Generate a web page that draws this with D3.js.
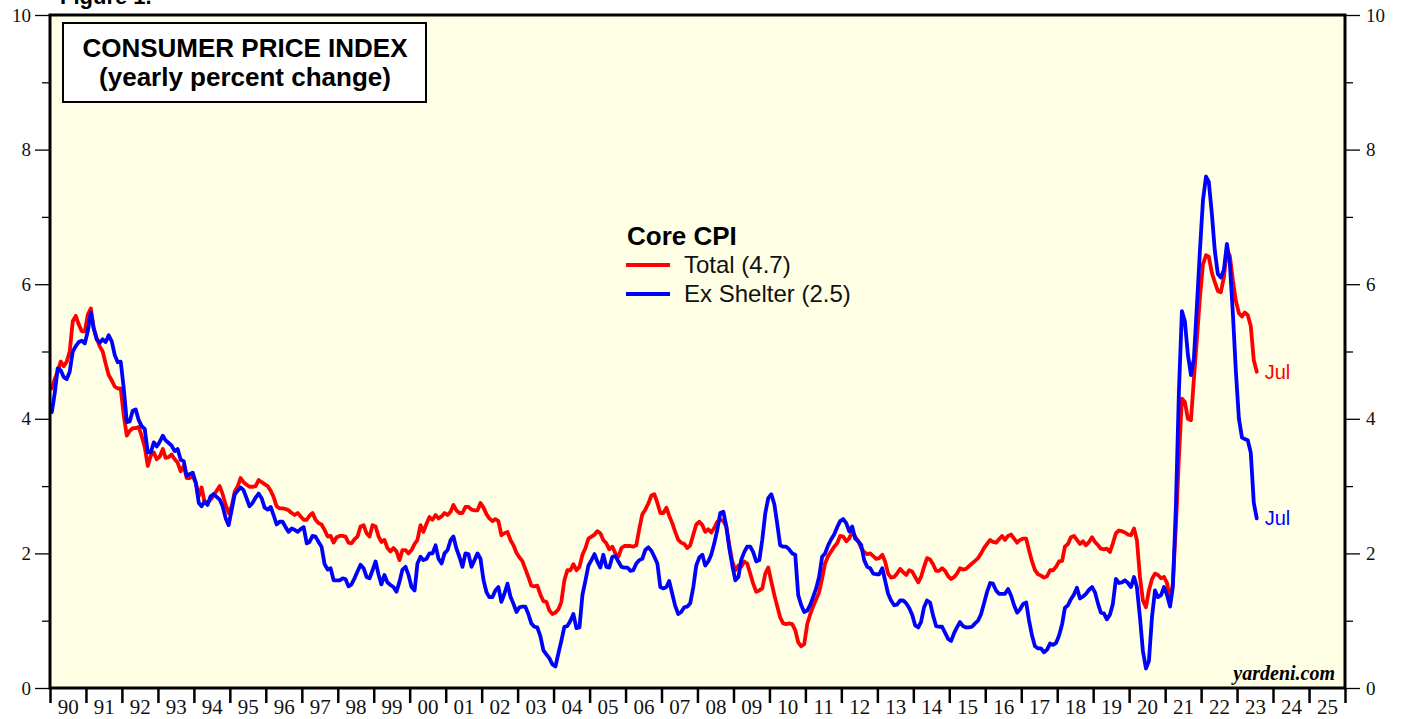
<!DOCTYPE html>
<html>
<head>
<meta charset="utf-8">
<script src="https://cdn.jsdelivr.net/npm/d3@7"></script>
<style>
  html, body { margin: 0; padding: 0; background: #fff; }
  svg { display: block; }
</style>
</head>
<body>
<svg id="chart" width="1406" height="719"></svg>
<script>
// Core CPI, yearly percent change, monthly from Jan 1990
const startYear = 1990;

const totalCore = [
  4.45, 4.6, 4.7, 4.85, 4.78, 4.85, 5.0, 5.45, 5.53, 5.4, 5.3, 5.3, // 90
  5.55, 5.64, 5.35, 5.2, 5.08, 5.0, 4.82, 4.65, 4.57, 4.48, 4.45, 4.45,
  4.05, 3.75, 3.82, 3.86, 3.86, 3.88, 3.74, 3.58, 3.3, 3.45, 3.5, 3.4,
  3.44, 3.55, 3.42, 3.43, 3.47, 3.4, 3.35, 3.22, 3.3, 3.12, 3.12, 3.15,
  3.05, 2.85, 2.98, 2.76, 2.76, 2.8, 2.86, 2.93, 3.0, 2.88, 2.72, 2.6,
  2.7, 2.92, 2.99, 3.12, 3.06, 3.02, 2.99, 2.99, 3.0, 3.09, 3.06, 3.03, // 95
  3.0, 2.93, 2.84, 2.7, 2.67, 2.67, 2.66, 2.64, 2.6, 2.57, 2.6, 2.55,
  2.5, 2.5, 2.56, 2.6, 2.5, 2.45, 2.43, 2.35, 2.25, 2.26, 2.16, 2.24,
  2.26, 2.26, 2.25, 2.16, 2.15, 2.21, 2.25, 2.4, 2.42, 2.3, 2.25, 2.42,
  2.4, 2.25, 2.17, 2.2, 2.08, 2.03, 2.08, 2.03, 1.9, 2.05, 2.05, 2.0,
  2.05, 2.14, 2.2, 2.42, 2.32, 2.44, 2.54, 2.5, 2.57, 2.52, 2.55, 2.6, // 00
  2.57, 2.62, 2.72, 2.64, 2.6, 2.6, 2.69, 2.69, 2.65, 2.64, 2.64, 2.75,
  2.68, 2.58, 2.52, 2.48, 2.51, 2.48, 2.27, 2.3, 2.32, 2.2, 2.12, 2.01,
  1.94, 1.88, 1.77, 1.65, 1.52, 1.51, 1.52, 1.39, 1.29, 1.28, 1.15, 1.1,
  1.12, 1.17, 1.28, 1.6, 1.75, 1.75, 1.84, 1.75, 1.8, 1.98, 2.08, 2.22,
  2.25, 2.28, 2.33, 2.3, 2.2, 2.15, 2.06, 2.1, 2.0, 1.95, 2.08, 2.11, // 05
  2.11, 2.11, 2.1, 2.12, 2.36, 2.58, 2.65, 2.74, 2.86, 2.88, 2.75, 2.6,
  2.6, 2.68, 2.56, 2.45, 2.32, 2.2, 2.16, 2.14, 2.08, 2.12, 2.28, 2.43,
  2.47, 2.42, 2.32, 2.36, 2.31, 2.38, 2.47, 2.5, 2.48, 2.4, 2.12, 1.88,
  1.75, 1.82, 1.8, 1.88, 1.85, 1.7, 1.55, 1.43, 1.45, 1.48, 1.7, 1.79,
  1.58, 1.38, 1.22, 1.05, 0.96, 0.95, 0.96, 0.95, 0.86, 0.68, 0.62, 0.65, // 10
  0.95, 1.1, 1.21, 1.32, 1.42, 1.63, 1.85, 1.96, 2.03, 2.1, 2.15, 2.26,
  2.25, 2.18, 2.22, 2.32, 2.25, 2.18, 2.08, 2.02, 1.99, 2.0, 1.96, 1.92,
  1.93, 1.98, 1.88, 1.7, 1.64, 1.65, 1.7, 1.77, 1.72, 1.68, 1.75, 1.73,
  1.65, 1.57, 1.65, 1.8, 1.93, 1.91, 1.84, 1.74, 1.74, 1.78, 1.74, 1.66,
  1.62, 1.65, 1.7, 1.78, 1.76, 1.77, 1.81, 1.85, 1.89, 1.93, 2.0, 2.08, // 15
  2.14, 2.2, 2.17, 2.16, 2.21, 2.26, 2.2, 2.26, 2.28, 2.22, 2.16, 2.2,
  2.22, 2.22, 2.05, 1.88, 1.75, 1.69, 1.67, 1.64, 1.66, 1.75, 1.75, 1.8,
  1.88, 1.89, 2.1, 2.14, 2.24, 2.26, 2.2, 2.14, 2.18, 2.12, 2.17, 2.24,
  2.17, 2.12, 2.07, 2.06, 2.07, 2.02, 2.15, 2.3, 2.34, 2.33, 2.31, 2.28,
  2.27, 2.37, 2.2, 1.65, 1.3, 1.2, 1.45, 1.62, 1.7, 1.68, 1.63, 1.65, // 20
  1.56, 1.3, 1.55, 2.4, 3.4, 4.3, 4.25, 4.0, 3.98, 4.6, 5.2, 5.8,
  6.3, 6.43, 6.41, 6.17, 6.03, 5.9, 5.88, 6.1, 6.52, 6.42, 6.05, 5.75,
  5.57, 5.52, 5.58, 5.54, 5.38, 4.87, 4.7
];

const exShelter = [
  4.1, 4.4, 4.75, 4.72, 4.62, 4.59, 4.7, 5.0, 5.08, 5.14, 5.16, 5.12, // 90
  5.3, 5.58, 5.35, 5.18, 5.13, 5.18, 5.14, 5.24, 5.15, 4.95, 4.84, 4.85,
  4.45, 3.95, 3.96, 4.12, 4.14, 3.98, 3.89, 3.85, 3.5, 3.5, 3.65, 3.59,
  3.66, 3.75, 3.68, 3.64, 3.6, 3.52, 3.55, 3.39, 3.37, 3.15, 3.18, 3.2,
  3.05, 2.75, 2.7, 2.77, 2.72, 2.85, 2.88, 2.84, 2.8, 2.7, 2.52, 2.42,
  2.65, 2.88, 2.93, 2.98, 2.94, 2.82, 2.7, 2.75, 2.83, 2.89, 2.82, 2.68, // 95
  2.65, 2.69, 2.57, 2.43, 2.47, 2.47, 2.39, 2.32, 2.37, 2.35, 2.32, 2.36,
  2.39, 2.15, 2.17, 2.26, 2.25, 2.17, 2.1, 1.84, 1.76, 1.78, 1.6, 1.6,
  1.6, 1.63, 1.62, 1.51, 1.54, 1.63, 1.73, 1.83, 1.78, 1.65, 1.63, 1.75,
  1.88, 1.68, 1.54, 1.68, 1.57, 1.53, 1.5, 1.43, 1.58, 1.76, 1.8, 1.68,
  1.5, 1.45, 1.85, 1.95, 1.9, 1.92, 2.0, 2.0, 2.12, 1.92, 1.85, 2.0, // 00
  2.05, 2.2, 2.25, 2.07, 1.95, 1.8, 2.0, 1.99, 1.8, 1.9, 2.0, 1.92,
  1.6, 1.42, 1.35, 1.35, 1.45, 1.5, 1.28, 1.4, 1.55, 1.36, 1.25, 1.13,
  1.2, 1.21, 1.21, 1.1, 0.96, 0.91, 0.9, 0.77, 0.56, 0.5, 0.44, 0.35,
  0.32, 0.52, 0.7, 0.91, 0.92, 1.0, 1.1, 0.89, 0.9, 1.38, 1.6, 1.82,
  1.9, 1.99, 1.88, 1.79, 1.98, 1.8, 1.79, 1.95, 1.96, 1.88, 1.8, 1.79, // 05
  1.79, 1.74, 1.75, 1.85, 1.9, 1.92, 2.05, 2.09, 2.04, 1.95, 1.85, 1.5,
  1.48, 1.5, 1.59, 1.4, 1.22, 1.1, 1.13, 1.2, 1.21, 1.26, 1.5, 1.82,
  1.94, 1.98, 1.82, 1.88, 1.98, 2.15, 2.35, 2.6, 2.62, 2.4, 2.07, 1.82,
  1.6, 1.65, 1.9, 2.02, 2.1, 2.1, 2.02, 1.88, 1.9, 2.2, 2.6, 2.82,
  2.88, 2.73, 2.45, 2.12, 2.1, 2.1, 2.06, 2.0, 1.98, 1.38, 1.23, 1.13, // 10
  1.15, 1.24, 1.35, 1.48, 1.65, 1.95, 2.0, 2.12, 2.21, 2.28, 2.39, 2.48,
  2.51, 2.45, 2.33, 2.4, 2.22, 2.18, 2.13, 1.9, 1.8, 1.78, 1.7, 1.69,
  1.69, 1.78, 1.6, 1.4, 1.3, 1.23, 1.24, 1.3, 1.3, 1.26, 1.19, 1.09,
  0.93, 0.9, 0.98, 1.2, 1.3, 1.27, 1.08, 0.92, 0.91, 0.91, 0.82, 0.73,
  0.7, 0.82, 0.9, 0.98, 0.92, 0.9, 0.9, 0.91, 0.96, 1.0, 1.1, 1.26, // 15
  1.43, 1.56, 1.55, 1.45, 1.4, 1.4, 1.4, 1.47, 1.37, 1.23, 1.12, 1.17,
  1.25, 1.27, 1.01, 0.78, 0.62, 0.59, 0.59, 0.53, 0.57, 0.66, 0.64, 0.67,
  0.78, 0.95, 1.19, 1.23, 1.32, 1.39, 1.49, 1.33, 1.36, 1.4, 1.46, 1.5,
  1.42, 1.25, 1.12, 1.11, 1.02, 1.09, 1.25, 1.62, 1.56, 1.57, 1.6, 1.56,
  1.5, 1.65, 1.5, 1.05, 0.55, 0.29, 0.4, 1.05, 1.45, 1.35, 1.38, 1.5, // 20
  1.38, 1.21, 1.5, 2.7, 4.38, 5.6, 5.45, 4.95, 4.65, 4.9, 5.7, 6.5,
  7.25, 7.6, 7.52, 7.05, 6.5, 6.15, 6.1, 6.21, 6.6, 6.3, 5.55, 4.7,
  4.0, 3.72, 3.7, 3.68, 3.5, 2.75, 2.52
];

const seriesNames = ['Total (4.7)', 'Ex Shelter (2.5)'];
const seriesColors = ['#ff0000', '#0000ff'];
const yMajor = [0, 2, 4, 6, 8, 10];
const yMinor = [1, 3, 5, 7, 9];
const yearTicks = d3.range(1990, 2027);
const yearLabels = d3.range(1990, 2026);

const margin = {left: 50, right: 61, top: 15, bottom: 31};
const width = 1406, height = 719;
const svg = d3.select('#chart');

const x = d3.scaleTime()
  .domain([new Date(1990, 0, 1), new Date(2026, 0, 1)])
  .range([margin.left, width - margin.right]);
const y = d3.scaleLinear()
  .domain([0, 10])
  .range([height - margin.bottom, margin.top]);

const toPoints = arr => arr.map((v, i) => ({date: new Date(startYear, i, 20), v: v}));
const series = [toPoints(totalCore), toPoints(exShelter)];

// plot background
svg.append('rect')
  .attr('x', x.range()[0]).attr('y', y(10))
  .attr('width', x.range()[1] - x.range()[0])
  .attr('height', y(0) - y(10))
  .attr('fill', '#ffffe6');

svg.append('clipPath').attr('id', 'clip')
  .append('rect')
  .attr('x', x.range()[0]).attr('y', y(10))
  .attr('width', x.range()[1] - x.range()[0])
  .attr('height', y(0) - y(10));

// axes
const serif = '"Liberation Serif", "Times New Roman", serif';
function styleAxis(g) {
  g.select('.domain').remove();
  g.selectAll('line').attr('stroke', '#000').attr('stroke-width', 1.3);
  g.selectAll('text').attr('font-family', serif).attr('font-size', 19).attr('fill', '#111');
}

svg.append('g').attr('transform', `translate(${margin.left},0)`)
  .call(d3.axisLeft(y).tickValues(yMajor).tickSize(15).tickPadding(4).tickFormat(d3.format('d')))
  .call(styleAxis);
svg.append('g').attr('transform', `translate(${margin.left},0)`)
  .call(d3.axisLeft(y).tickValues(yMinor).tickSize(8).tickFormat(''))
  .call(styleAxis);
svg.append('g').attr('transform', `translate(${width - margin.right},0)`)
  .call(d3.axisRight(y).tickValues(yMajor).tickSize(15).tickPadding(6).tickFormat(d3.format('d')))
  .call(styleAxis);
svg.append('g').attr('transform', `translate(${width - margin.right},0)`)
  .call(d3.axisRight(y).tickValues(yMinor).tickSize(8).tickFormat(''))
  .call(styleAxis);

svg.append('g').attr('transform', `translate(0,${y(0)})`)
  .call(d3.axisBottom(x).tickValues(yearTicks.map(yr => new Date(yr, 0, 1))).tickSize(15).tickFormat(''))
  .call(styleAxis)
  .selectAll('line').attr('stroke-width', 2.5);
svg.append('g').attr('transform', `translate(0,${y(0)})`)
  .call(d3.axisBottom(x).tickValues(yearLabels.map(yr => new Date(yr, 6, 1))).tickSize(0).tickPadding(11).tickFormat(d3.timeFormat('%y')))
  .call(styleAxis)
  .selectAll('text').attr('font-size', 21);

// lines
const line = d3.line().x(d => x(d.date)).y(d => y(d.v));
svg.append('g').attr('clip-path', 'url(#clip)')
  .selectAll('path')
  .data(series)
  .join('path')
  .attr('d', line)
  .attr('fill', 'none')
  .attr('stroke', (d, i) => seriesColors[i])
  .attr('stroke-width', 3.8)
  .attr('stroke-linejoin', 'round')
  .attr('stroke-linecap', 'round');

// frame
svg.append('rect')
  .attr('x', x.range()[0]).attr('y', y(10))
  .attr('width', x.range()[1] - x.range()[0])
  .attr('height', y(0) - y(10))
  .attr('fill', 'none')
  .attr('stroke', '#000')
  .attr('stroke-width', 3);

const sans = '"Liberation Sans", Arial, sans-serif';

// figure caption, cut off by the top edge as in the original
svg.append('text')
  .attr('x', 60).attr('y', 4)
  .attr('font-family', sans).attr('font-weight', 'bold').attr('font-size', 22)
  .text('Figure 1.');

// title box
svg.append('rect')
  .attr('x', 63).attr('y', 23).attr('width', 363).attr('height', 79)
  .attr('fill', '#fff').attr('stroke', '#000').attr('stroke-width', 2);
const title = svg.append('text')
  .attr('font-family', sans).attr('font-weight', 'bold').attr('font-size', 26)
  .attr('text-anchor', 'middle');
title.append('tspan').attr('x', 245).attr('y', 57).text('CONSUMER PRICE INDEX');
title.append('tspan').attr('x', 245).attr('y', 86).text('(yearly percent change)');

// legend
svg.append('text')
  .attr('x', 627).attr('y', 245)
  .attr('font-family', sans).attr('font-weight', 'bold').attr('font-size', 26)
  .text('Core CPI');
const legend = svg.selectAll('g.legend')
  .data(seriesNames)
  .join('g')
  .attr('class', 'legend')
  .attr('transform', (d, i) => `translate(0,${265 + i * 29})`);
legend.append('line')
  .attr('x1', 626).attr('x2', 670)
  .attr('stroke', (d, i) => seriesColors[i])
  .attr('stroke-width', 3.8);
legend.append('text')
  .attr('x', 684).attr('y', 8)
  .attr('font-family', sans).attr('font-size', 24).attr('fill', '#111')
  .text(d => d);

// end labels
series.forEach((s, i) => {
  const last = s[s.length - 1];
  svg.append('text')
    .attr('x', x(last.date) + 8)
    .attr('y', y(last.v) + 7)
    .attr('font-family', sans).attr('font-size', 20)
    .attr('fill', seriesColors[i])
    .text('Jul');
});

// source
svg.append('text')
  .attr('x', 1335).attr('y', 680)
  .attr('text-anchor', 'end')
  .attr('font-family', serif).attr('font-weight', 'bold').attr('font-style', 'italic')
  .attr('font-size', 20)
  .text('yardeni.com');
</script>
</body>
</html>
